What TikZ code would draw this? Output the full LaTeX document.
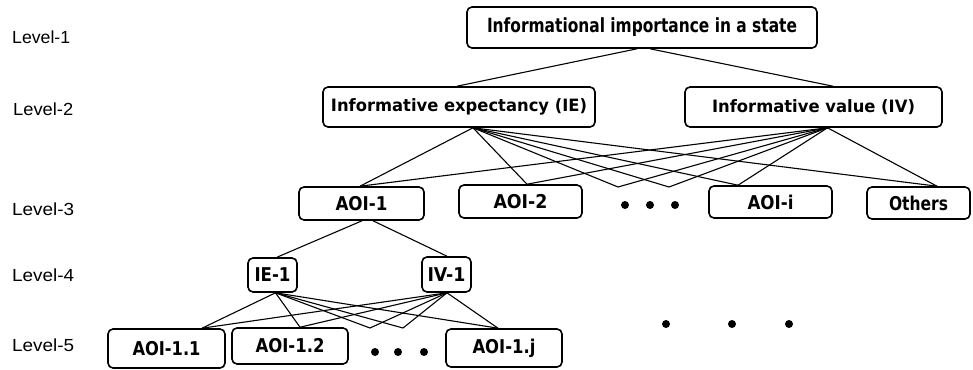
\documentclass[tikz,border=0pt]{standalone}
\usepackage{fontspec}
\usepackage{graphicx}
\newfontfamily\djv{DejaVu Sans}
\newfontfamily\lvf{Liberation Sans}
\newcommand\fitt[2]{\resizebox{#1}{\height}{#2}}
\begin{document}
\begin{tikzpicture}[x=1pt,y=-1pt,
  box/.style={draw,line width=1.6pt,rounded corners=5pt,inner sep=0pt,anchor=center,font=\djv\bfseries},
  lvl/.style={anchor=west,inner sep=0pt,font=\lvf\fontsize{17.5}{18}\selectfont},
  con/.style={line width=1.1pt},
  dot/.style={circle,fill=black,inner sep=0pt,minimum size=8pt}]
\useasboundingbox (0,0) rectangle (973,369);
% level labels
\node[lvl] (l1) at (12,37) {\fitt{58pt}{Level-1}};
\node[lvl] (l2) at (13,109) {\fitt{60pt}{Level-2}};
\node[lvl] (l3) at (12,209) {\fitt{62pt}{Level-3}};
\node[lvl] (l4) at (12,275) {\fitt{62pt}{Level-4}};
\node[lvl] (l5) at (12,345) {\fitt{62pt}{Level-5}};
% boxes
\node[box,minimum width=350pt,minimum height=41pt] (top) at (642,27.5) {\fontsize{19.5}{20}\selectfont\fitt{310pt}{Informational importance in a state}};
\node[box,minimum width=272pt,minimum height=40pt] (ie) at (459,107) {\fontsize{17}{18}\selectfont\fitt{256pt}{Informative expectancy (IE)}};
\node[box,minimum width=257pt,minimum height=40pt] (iv) at (813.5,107) {\fontsize{17}{18}\selectfont\fitt{203pt}{Informative value (IV)}};
\node[box,minimum width=125pt,minimum height=33pt] (a1) at (361.5,203.5) {\fontsize{19}{20}\selectfont\fitt{52pt}{AOI-1}};
\node[box,minimum width=123pt,minimum height=33pt] (a2) at (520.5,201.5) {\fontsize{19}{20}\selectfont\fitt{54pt}{AOI-2}};
\node[box,minimum width=123pt,minimum height=32pt] (ai) at (770.5,202) {\fontsize{19}{20}\selectfont\fitt{46pt}{AOI-i}};
\node[box,minimum width=103pt,minimum height=32pt] (oth) at (918.5,203) {\fontsize{19}{20}\selectfont\fitt{59pt}{Others}};
\node[box,minimum width=49pt,minimum height=34pt] (ie1) at (272.5,275) {\fontsize{19}{20}\selectfont\fitt{36pt}{IE-1}};
\node[box,minimum width=49pt,minimum height=35pt] (iv1) at (446.5,274.5) {\fontsize{19}{20}\selectfont\fitt{38pt}{IV-1}};
\node[box,minimum width=117pt,minimum height=39pt] (a11) at (166.5,348.5) {\fontsize{19}{20}\selectfont\fitt{68pt}{AOI-1.1}};
\node[box,minimum width=116pt,minimum height=36pt] (a12) at (290,346) {\fontsize{19}{20}\selectfont\fitt{69pt}{AOI-1.2}};
\node[box,minimum width=116pt,minimum height=38pt] (a1j) at (504,348) {\fontsize{19}{20}\selectfont\fitt{63pt}{AOI-1.j}};
% dots
\node[dot] (d31) at (625,205) {};
\node[dot] (d32) at (650,205) {};
\node[dot] (d33) at (675,205) {};
\node[dot] (d51) at (375,352) {};
\node[dot] (d52) at (398,352) {};
\node[dot] (d53) at (424,352) {};
\node[dot] (r1) at (666,324) {};
\node[dot] (r2) at (732,324) {};
\node[dot] (r3) at (789,324) {};
% junction coordinates
\coordinate (v1) at (618,187);
\coordinate (v2) at (669,187);
\coordinate (w1) at (370,328);
\coordinate (w2) at (403,328);
% connectors level 1-2
\draw[con] ([xshift=-5pt]top.south) -- ([xshift=-2pt]ie.north);
\draw[con] ([xshift=8pt]top.south) -- ([xshift=19.5pt]iv.north);
% level 2-3
\foreach \p in {ie,iv}{
  \draw[con] ([xshift=14pt]\p.south) -- ([xshift=-1.5pt]a1.north);
  \draw[con] ([xshift=14pt]\p.south) -- ([xshift=6.5pt]a2.north);
  \draw[con] ([xshift=14pt]\p.south) -- (v1);
  \draw[con] ([xshift=14pt]\p.south) -- (v2);
  \draw[con] ([xshift=14pt]\p.south) -- ([xshift=-32.5pt]ai.north);
  \draw[con] ([xshift=14pt]\p.south) -- ([xshift=18.5pt]oth.north);
}
% level 3-4
\draw[con] ([xshift=0.5pt]a1.south) -- ([xshift=4.5pt]ie1.north);
\draw[con] ([xshift=11.5pt]a1.south) -- ([xshift=0.5pt]iv1.north);
% level 4-5
\foreach \p/\s in {ie1/3pt,iv1/0.5pt}{
  \draw[con] ([xshift=\s]\p.south) -- ([xshift=35.5pt]a11.north);
  \draw[con] ([xshift=\s]\p.south) -- ([xshift=10pt]a12.north);
  \draw[con] ([xshift=\s]\p.south) -- (w1);
  \draw[con] ([xshift=\s]\p.south) -- (w2);
  \draw[con] ([xshift=\s]\p.south) -- ([xshift=-6pt]a1j.north);
}
\end{tikzpicture}
\end{document}
